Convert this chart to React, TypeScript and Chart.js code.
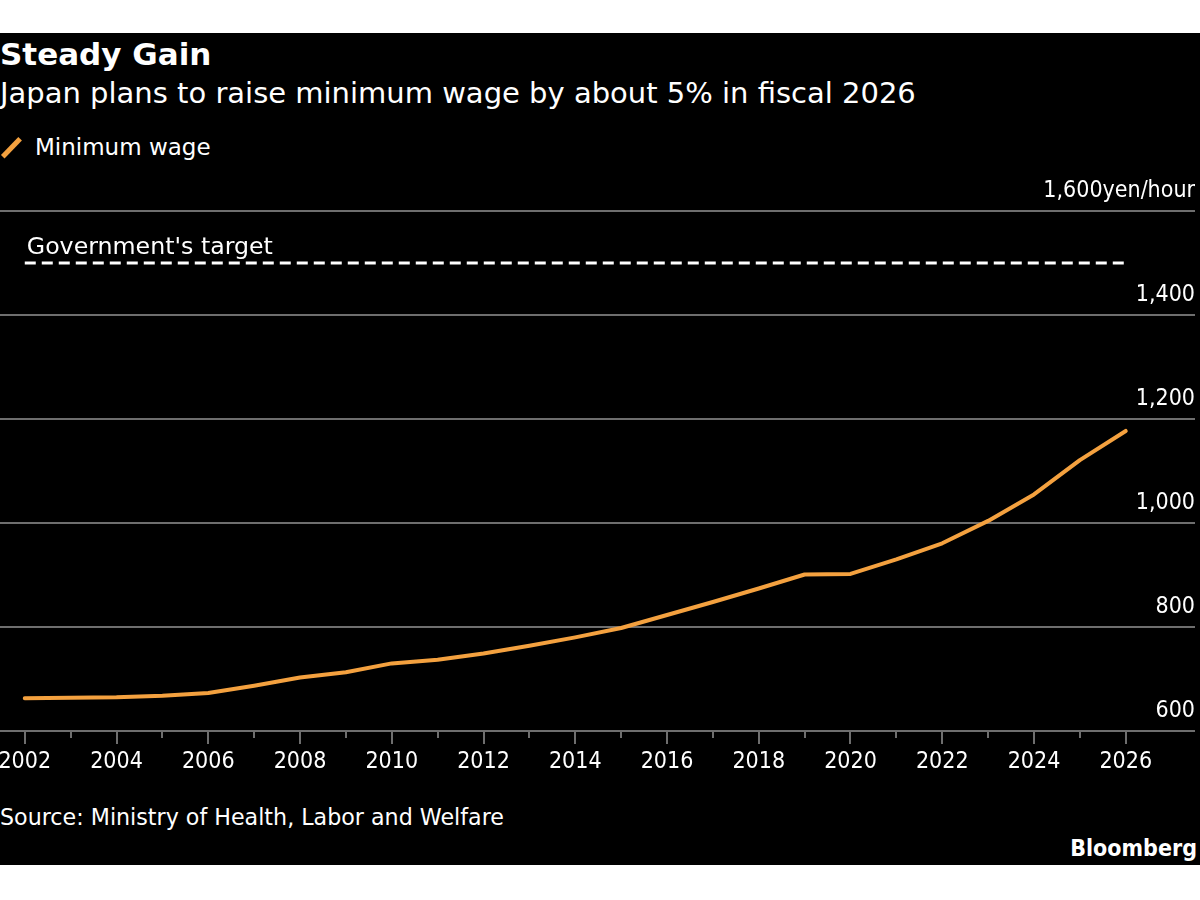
import { useEffect, useRef } from "react";
import { Chart, registerables } from "chart.js";

Chart.register(...registerables);

// Fiscal years shown on the x axis (every year gets a tick, even years get a label)
const years = [
  2002, 2003, 2004, 2005, 2006, 2007, 2008, 2009, 2010, 2011, 2012, 2013,
  2014, 2015, 2016, 2017, 2018, 2019, 2020, 2021, 2022, 2023, 2024, 2025, 2026,
];

// National average minimum wage, yen per hour
const minimumWage = [
  663, 664, 665, 668, 673, 687, 703, 713, 730, 737, 749, 764,
  780, 798, 823, 848, 874, 901, 902, 930, 961, 1004, 1055, 1121, 1177,
];

// Government's target level and the span it is drawn across
const targetWage = 1500;
const targetYears = [2002, 2026];

// Value axis
const yTicks = [600, 800, 1000, 1200, 1400, 1600];
const yUnit = "yen/hour";

const ORANGE = "#f4a13f";
const GRID = "#6e6e6e";
const TEXT_FONT = "'DejaVu Sans', sans-serif";
const NUM_FONT = "'DejaVu Sans Condensed', 'DejaVu Sans', sans-serif";

const fmt = (v: number) => v.toLocaleString("en-US");

// Small tick marks under the x axis: long ones for labelled years, short otherwise
const xTickMarks = {
  id: "xTickMarks",
  afterDraw(chart: any) {
    const { ctx, chartArea, scales } = chart;
    const x = scales.x;
    ctx.save();
    ctx.strokeStyle = GRID;
    ctx.lineWidth = 2;
    years.forEach((yr) => {
      const px = Math.round(x.getPixelForValue(yr));
      const len = yr % 2 === 0 ? 13 : 7;
      ctx.beginPath();
      ctx.moveTo(px, chartArea.bottom);
      ctx.lineTo(px, chartArea.bottom + len);
      ctx.stroke();
    });
    ctx.restore();
  },
};

// Caption sitting on top of the dashed target line
const targetCaption = {
  id: "targetCaption",
  afterDatasetsDraw(chart: any) {
    const { ctx, scales } = chart;
    const px = scales.x.getPixelForValue(targetYears[0]);
    const py = scales.y.getPixelForValue(targetWage);
    ctx.save();
    ctx.fillStyle = "#ffffff";
    ctx.font = `23.7px ${TEXT_FONT}`;
    ctx.textAlign = "left";
    ctx.textBaseline = "alphabetic";
    ctx.fillText("Government's target", px + 2, py - 9);
    ctx.restore();
  },
};

function WageChart() {
  const ref = useRef<HTMLCanvasElement | null>(null);

  useEffect(() => {
    if (!ref.current) return;
    const xMin = years[0] - 0.54;
    const xMax = years[years.length - 1] + 1.51;

    const chart = new Chart(ref.current, {
      type: "line",
      data: {
        datasets: [
          {
            label: "Minimum wage",
            data: years.map((yr, i) => ({ x: yr, y: minimumWage[i] })),
            borderColor: ORANGE,
            borderWidth: 4,
            pointRadius: 0,
            tension: 0,
            borderJoinStyle: "round",
            borderCapStyle: "round",
          },
          {
            label: "Government's target",
            data: targetYears.map((yr) => ({ x: yr, y: targetWage })),
            borderColor: "#ffffff",
            borderWidth: 3,
            borderDash: [11, 6],
            pointRadius: 0,
          },
        ],
      },
      options: {
        animation: false,
        responsive: false,
        maintainAspectRatio: false,
        layout: {
          autoPadding: false,
          padding: { top: 41, right: 5, left: 0, bottom: 0 },
        },
        plugins: {
          legend: { display: false },
          tooltip: { enabled: false },
        },
        scales: {
          x: {
            type: "linear",
            min: xMin,
            max: xMax,
            afterBuildTicks: (s: any) => {
              s.ticks = years.map((v) => ({ value: v }));
            },
            afterFit: (s: any) => {
              s.height = 59;
              s.paddingLeft = 0;
              s.paddingRight = 0;
            },
            grid: { display: false },
            border: { display: false },
            ticks: {
              autoSkip: false,
              maxRotation: 0,
              color: "#ffffff",
              padding: 9,
              font: { family: NUM_FONT, size: 23 },
              callback: (v: any) => (Number(v) % 2 === 0 ? String(v) : ""),
            },
          },
          y: {
            position: "right",
            min: yTicks[0],
            max: yTicks[yTicks.length - 1],
            afterBuildTicks: (s: any) => {
              s.ticks = yTicks.map((v) => ({ value: v }));
            },
            afterFit: (s: any) => {
              s.width = 0;
              s.paddingTop = 0;
              s.paddingBottom = 0;
            },
            grid: { color: GRID, lineWidth: 2, drawTicks: false },
            border: { display: false },
            ticks: {
              mirror: true,
              padding: 0,
              labelOffset: -20,
              color: "#ffffff",
              font: { family: NUM_FONT, size: 23 },
              callback: (v: any) =>
                Number(v) === yTicks[yTicks.length - 1]
                  ? fmt(Number(v)) + yUnit
                  : fmt(Number(v)),
            },
          },
        },
      },
      plugins: [xTickMarks, targetCaption],
    } as any);

    return () => chart.destroy();
  }, []);

  return (
    <canvas
      ref={ref}
      width={1200}
      height={620}
      style={{ display: "block", width: 1200, height: 620 }}
    />
  );
}

export default function App() {
  const abs = (top: number, extra: any = {}) => ({
    position: "absolute" as const,
    top,
    lineHeight: 1,
    whiteSpace: "nowrap" as const,
    color: "#ffffff",
    ...extra,
  });

  return (
    <div
      style={{
        position: "absolute",
        left: 0,
        top: 0,
        width: 1200,
        height: 900,
        background: "#ffffff",
        overflow: "hidden",
      }}
    >
      <div
        style={{
          position: "absolute",
          left: 0,
          top: 33,
          width: 1200,
          height: 832,
          background: "#000000",
        }}
      />
      <div style={abs(39, { left: 0, fontFamily: TEXT_FONT, fontWeight: 700, fontSize: 31 })}>
        Steady Gain
      </div>
      <div style={abs(79, { left: 0, fontFamily: TEXT_FONT, fontSize: 29 })}>
        Japan plans to raise minimum wage by about 5% in fiscal 2026
      </div>
      <div
        style={{
          position: "absolute",
          left: 9,
          top: 135,
          width: 4.5,
          height: 25,
          background: ORANGE,
          transform: "rotate(44deg)",
        }}
      />
      <div style={abs(136, { left: 35, fontFamily: TEXT_FONT, fontSize: 23 })}>
        Minimum wage
      </div>
      <div style={{ position: "absolute", left: 0, top: 170 }}>
        <WageChart />
      </div>
      <div style={abs(806, { left: 0, fontFamily: TEXT_FONT, fontSize: 22.2 })}>
        Source: Ministry of Health, Labor and Welfare
      </div>
      <div
        style={abs(837, {
          right: 3,
          fontFamily: NUM_FONT,
          fontWeight: 700,
          fontSize: 23,
        })}
      >
        Bloomberg
      </div>
    </div>
  );
}
